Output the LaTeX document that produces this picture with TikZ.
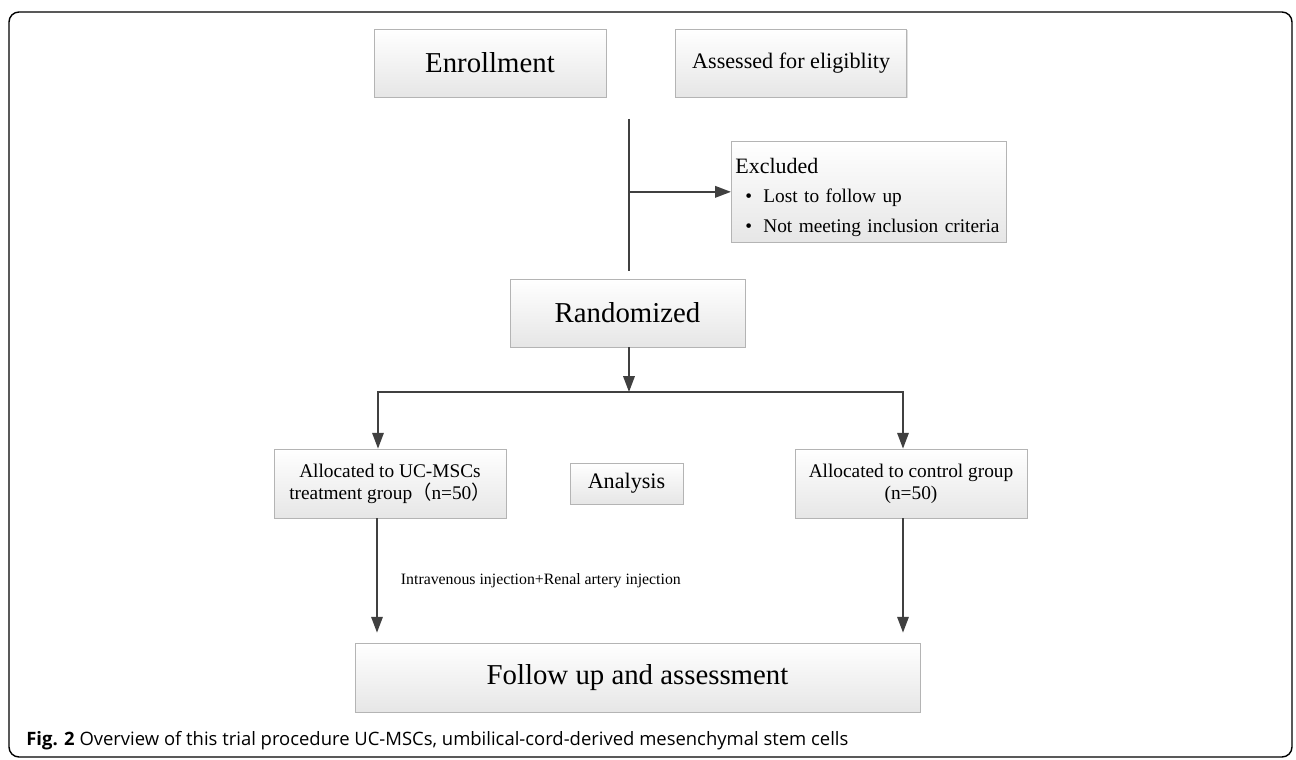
\documentclass[tikz,border=0pt]{standalone}
\usepackage{fontspec}
\setmainfont{Liberation Serif}
\newfontfamily\capfont{Open Sans}
\newfontfamily\cjk{Noto Sans CJK SC}
\usepackage{tikz}
\usetikzlibrary{positioning,arrows.meta,shadows,calc}
\definecolor{boxline}{HTML}{B4B4B4}
\definecolor{boxfill}{HTML}{E6E6E6}
\definecolor{flowgray}{HTML}{404040}
\tikzstyle{stage} = [rectangle, draw=boxline, top color=white, bottom color=boxfill,
                     inner sep=0pt, text centered, align=center,
                     drop shadow={shadow xshift=0.6pt, shadow yshift=-0.6pt, opacity=0.25}]
\tikzstyle{link}  = [draw=flowgray, line width=1.1pt]
\tikzstyle{ptr}   = [link, -{Triangle[length=9pt,width=6.5pt]}]
\newcommand{\bigtext}{\fontsize{16.4}{19}\selectfont}
\newcommand{\midtext}{\fontsize{12.6}{15}\selectfont}
\newcommand{\smalltext}{\fontsize{11}{12.5}\selectfont}

\begin{document}
\begin{tikzpicture}[x=0.02cm, y=-0.02cm, node distance=1.38cm]
		\useasboundingbox (0,0) rectangle (1296,760);
		\draw[line width=0.8pt, rounded corners=0.2cm] (9,12) rectangle (1292,757);

		\node[stage, font=\bigtext, minimum width=4.64cm, minimum height=1.36cm] (enroll) at (490,63) {Enrollment};
		\node[stage, font=\midtext, minimum width=4.62cm, minimum height=1.36cm, right=of enroll] (assess) {Assessed for eligiblity};
		\node[stage, anchor=north west, minimum width=5.5cm, minimum height=2.02cm,
		      text width=5.34cm, inner xsep=0.08cm, align=left,
		      font=\fontsize{11}{17}\selectfont] (excl) at (731,141)
		      {\rule{0pt}{15pt}{\fontsize{12.5}{17}\selectfont Excluded}\\
		       \hspace{0.2cm}\makebox[0.36cm][l]{\textbullet}Lost to follow up\\
		       \hspace{0.2cm}\makebox[0.36cm][l]{\textbullet}Not meeting inclusion criteria};
		\node[stage, font=\bigtext, minimum width=4.7cm, minimum height=1.36cm] (rand) at (627.5,313) {Randomized};
		\node[stage, font=\smalltext, minimum width=4.64cm, minimum height=1.38cm] (alloc1) at (390,483.5)
		      {Allocated to UC-MSCs\\ treatment group{\cjk （}n=50{\cjk ）}};
		\node[stage, font=\midtext, minimum width=2.26cm, minimum height=0.82cm] (analysis) at (626.5,483.5) {Analysis};
		\node[stage, font=\smalltext, minimum width=4.64cm, minimum height=1.38cm] (alloc2) at (911,483.5)
		      {Allocated to control group\\ (n=50)};
		\node[stage, font=\bigtext, minimum width=11.3cm, minimum height=1.38cm] (follow) at (637.5,677.5) {Follow up and assessment};

		% enrollment to randomization
		\coordinate (top) at (629,119);
		\draw[link] (top) -- ([yshift=0.16cm]rand.north -| top);
		\draw[ptr] (top |- excl.west) -- (excl.west);

		% split into the two groups
		\coordinate (split) at (629,392);
		\draw[ptr] (rand.south -| split) -- (split);
		\draw[ptr] (split) -| ([xshift=-0.24cm]alloc1.north);
		\draw[ptr] (split) -| ([xshift=-0.16cm]alloc2.north);

		\draw[ptr, shorten >=0.2cm] ([xshift=-0.26cm]alloc1.south) -- ([xshift=-0.26cm]alloc1.south |- follow.north)
		      node[midway, right=0.46cm, inner sep=0pt, font=\fontsize{9}{11}\selectfont] (inject) {Intravenous injection+Renal artery injection};
		\draw[ptr, shorten >=0.2cm] ([xshift=-0.16cm]alloc2.south) -- ([xshift=-0.16cm]alloc2.south |- follow.north);

		\node[anchor=base west, inner sep=0pt, font=\capfont\fontsize{10.5}{12}\selectfont] (caption) at (26,745)
		      {{\bfseries Fig. 2} Overview of this trial procedure UC-MSCs, umbilical-cord-derived mesenchymal stem cells};
	\end{tikzpicture}
\end{document}
